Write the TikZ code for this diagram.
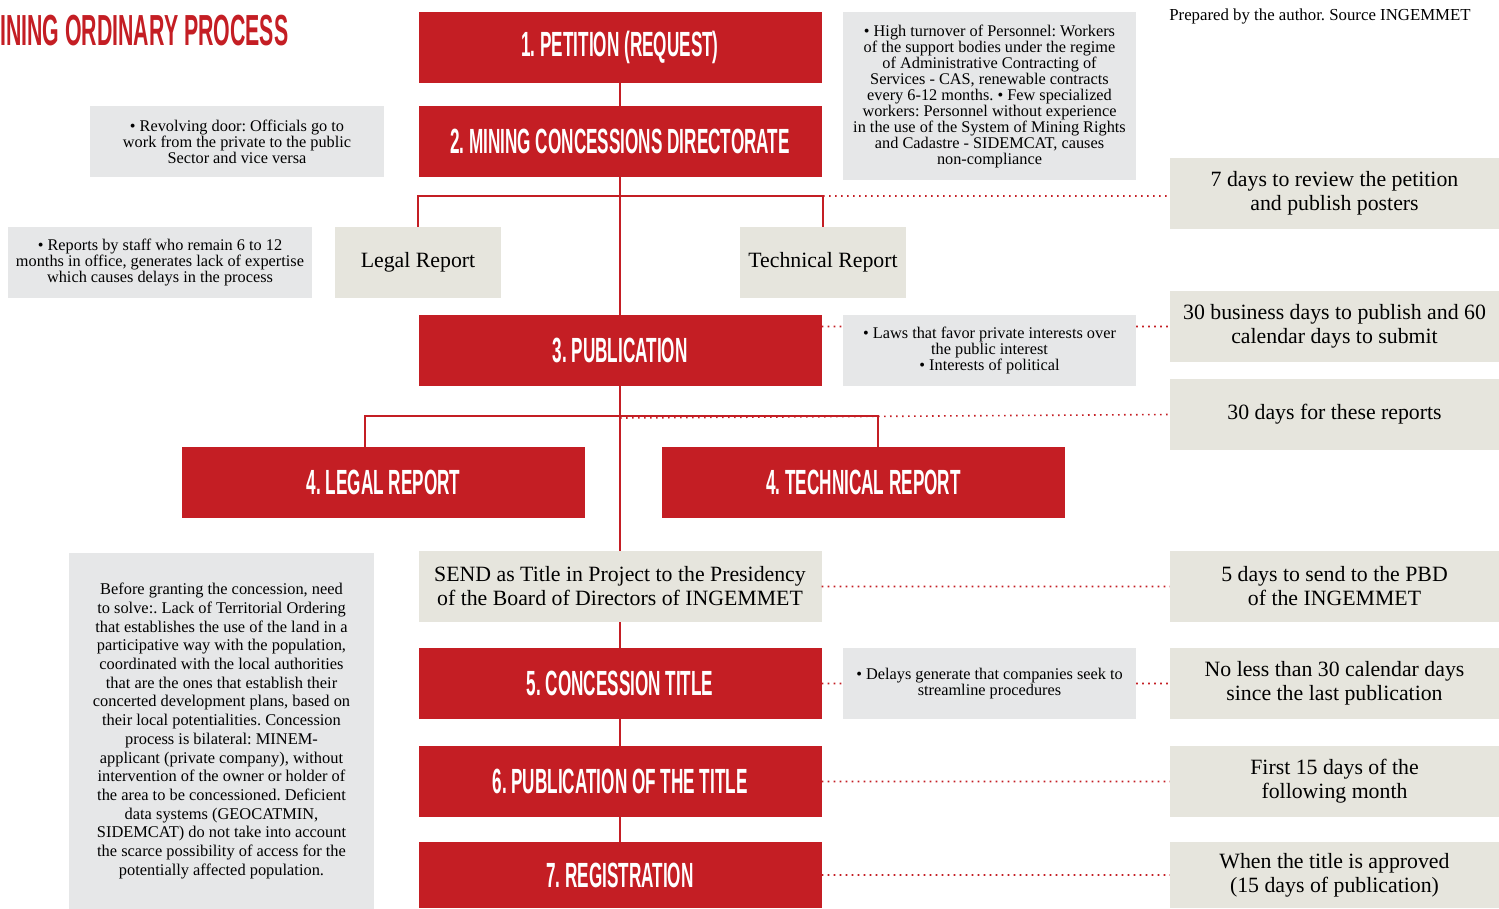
\documentclass[tikz,border=0pt]{standalone}
\usepackage{fontspec}
\setmainfont{Liberation Serif}
\newfontfamily\headfont{Liberation Sans}[FakeStretch=0.49]
\usepackage{tikz}
\usetikzlibrary{positioning}
\frenchspacing

\definecolor{minered}{RGB}{196,30,36}
\definecolor{notegray}{RGB}{230,231,232}
\definecolor{reportbeige}{RGB}{230,229,221}

\begin{document}
\begin{tikzpicture}[x=1pt,y=-1pt,
        red node/.style={fill=minered,text=white,minimum width=403pt,minimum height=71pt,inner sep=0pt,
          font=\headfont\bfseries\fontsize{35}{40}\selectfont},
        report node/.style={fill=reportbeige,minimum height=71pt,inner sep=0pt,align=center,
          font=\fontsize{21.8}{24}\selectfont},
        time node/.style={report node,minimum width=329pt},
        note node/.style={fill=notegray,inner sep=0pt,align=center,font=\fontsize{16.3}{16}\selectfont},
        link/.style={draw=minered,line width=2pt},
        dot link/.style={draw=minered,line width=1.6pt,dash pattern=on 1.6pt off 4.4pt}]
      \useasboundingbox (0,0) rectangle (1499,908);

      % heading and source
      \node[anchor=west,inner sep=0pt,text=minered,font=\headfont\bfseries\fontsize{43.5}{46}\selectfont]
        (title) at (0,31) {INING ORDINARY PROCESS};
      \node[inner sep=0pt,font=\fontsize{16.8}{17}\selectfont] (source) at (1320,16)
        {Prepared by the author. Source INGEMMET};

      % process steps
      \node[red node] (petition) at (620,47.5) {1. PETITION (REQUEST)};
      \node[red node] (directorate) at (620,141.5) {2. MINING CONCESSIONS DIRECTORATE};
      \node[report node,minimum width=166pt] (legal) at (418,262.5) {Legal Report};
      \node[report node,minimum width=166pt] (technical) at (823,262.5) {Technical Report};
      \node[red node] (publication) at (620,350.5) {3. PUBLICATION};
      \node[red node] (legal4) at (383.5,482.5) {4. LEGAL REPORT};
      \node[red node] (technical4) at (863.5,482.5) {4. TECHNICAL REPORT};
      \node[report node,minimum width=403pt] (send) at (620,586.5)
        {SEND as Title in Project to the Presidency\\of the Board of Directors of INGEMMET};
      \node[red node] (title5) at (620,683.5) {5. CONCESSION TITLE};
      \node[red node] (publish6) at (620,781.5) {6. PUBLICATION OF THE TITLE};
      \node[red node,minimum height=66pt] (registration) at (620,875) {7. REGISTRATION};

      % time limits
      \node[time node] (days7) at (1334.5,193.5) {7 days to review the petition\\and publish posters};
      \node[time node] (days30b) at (1334.5,326.5) {30 business days to publish and 60\\calendar days to submit};
      \node[time node] (days30r) at (1334.5,414.5) {30 days for these reports};
      \node[time node] (days5) at (1334.5,586.5) {5 days to send to the PBD\\of the INGEMMET};
      \node[time node] (days30c) at (1334.5,683.5) {No less than 30 calendar days\\since the last publication};
      \node[time node] (days15) at (1334.5,781.5) {First 15 days of the\\following month};
      \node[time node,minimum height=66pt] (approved) at (1334.5,875) {When the title is approved\\(15 days of publication)};

      % problems
      \node[note node,minimum width=293pt,minimum height=168pt] (turnover) at (989.5,96)
        {• High turnover of Personnel: Workers\\of the support bodies under the regime\\of Administrative Contracting of\\
         Services - CAS, renewable contracts\\every 6-12 months. • Few specialized\\workers: Personnel without experience\\
         in the use of the System of Mining Rights\\and Cadastre - SIDEMCAT, causes\\non-compliance};
      \node[note node,minimum width=294pt,minimum height=71pt] (revolving) at (237,141.5)
        {• Revolving door: Officials go to\\work from the private to the public\\Sector and vice versa};
      \node[note node,minimum width=304pt,minimum height=71pt] (staff) at (160,262.5)
        {• Reports by staff who remain 6 to 12\\months in office, generates lack of expertise\\which causes delays in the process};
      \node[note node,minimum width=293pt,minimum height=71pt] (laws) at (989.5,350.5)
        {• Laws that favor private interests over\\the public interest\\• Interests of political};
      \node[note node,minimum width=293pt,minimum height=71pt] (delays) at (989.5,683.5)
        {• Delays generate that companies seek to\\streamline procedures};
      \node[note node,minimum width=305pt,minimum height=357pt,font=\fontsize{16.4}{18.7}\selectfont] (granting) at (221.5,731)
        {Before granting the concession, need\\to solve:. Lack of Territorial Ordering\\that establishes the use of the land in a\\
         participative way with the population,\\coordinated with the local authorities\\that are the ones that establish their\\
         concerted development plans, based on\\their local potentialities. Concession\\process is bilateral: MINEM-\\
         applicant (private company), without\\intervention of the owner or holder of\\the area to be concessioned. Deficient\\
         data systems (GEOCATMIN,\\SIDEMCAT) do not take into account\\the scarce possibility of access for the\\
         potentially affected population.};

      % forks
      \coordinate (forkA) at (620,196);
      \coordinate (forkB) at (620,416);
      \coordinate (forkBl) at (365,416);
      \coordinate (forkBr) at (878,416);

      \path[link]
      (petition) -- (directorate)
      (directorate) -- (publication)
      (legal.north) |- (forkA) -| (technical.north)
      (publication) -- (send)
      (forkBl |- legal4.north) -- (forkBl) -- (forkBr) -- (forkBr |- technical4.north)
      (send) -- (title5)
      (title5) -- (publish6)
      (publish6) -- (registration);

      \path[dot link]
      (technical.north |- forkA) -- (days7.west |- forkA)
      (publication.east |- days30b) -- (laws.west |- days30b)
      (laws.east |- days30b) -- (days30b.west)
      ([yshift=-2pt]forkB) -- (days30r.west)
      (send.east) -- (days5.west)
      (title5.east) -- (delays.west)
      (delays.east) -- (days30c.west)
      (publish6.east) -- (days15.west)
      (registration.east) -- (approved.west);
\end{tikzpicture}
\end{document}
